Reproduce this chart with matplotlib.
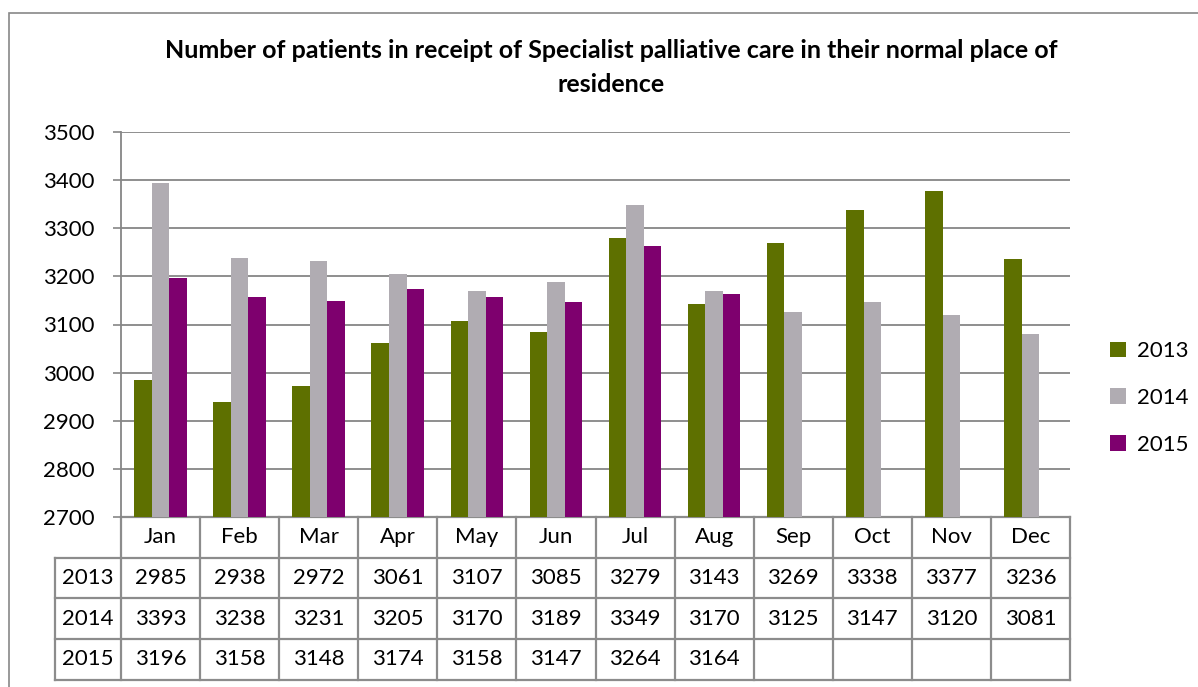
import matplotlib.pyplot as plt
import matplotlib.transforms as mtransforms
from matplotlib.patches import Rectangle

months = ['Jan', 'Feb', 'Mar', 'Apr', 'May', 'Jun',
          'Jul', 'Aug', 'Sep', 'Oct', 'Nov', 'Dec']
years = ['2013', '2014', '2015']
v2013 = [2985, 2938, 2972, 3061, 3107, 3085, 3279, 3143, 3269, 3338, 3377, 3236]
v2014 = [3393, 3238, 3231, 3205, 3170, 3189, 3349, 3170, 3125, 3147, 3120, 3081]
v2015 = [3196, 3158, 3148, 3174, 3158, 3147, 3264, 3164]
colors = ['#5E7000', '#B0ACB2', '#7E006E']
yticks = [2700, 2800, 2900, 3000, 3100, 3200, 3300, 3400, 3500]

plt.rcParams['font.family'] = ['Lato', 'DejaVu Sans']
W, H = 1198, 687
fig = plt.figure(figsize=(W / 100, H / 100), dpi=100)

# outer chart border
fig.patches.append(Rectangle((9 / W, -0.01), 1.2, 1 - 13 / H + 0.01,
                             transform=fig.transFigure, fill=False,
                             edgecolor='#888888', linewidth=1.2))

ax = fig.add_axes([121 / W, 1 - 517 / H, 949 / W, 385 / H])

bw = 1 / 4.5
series = [v2013, v2014, v2015]
for k, (vals, c, lab) in enumerate(zip(series, colors, years)):
    xs = [i + (k - 1) * bw for i in range(len(vals))]
    ax.bar(xs, [v - 2700 for v in vals], bw, bottom=2700, color=c, label=lab, zorder=3)

ax.set_xlim(-0.5, 11.5)
ax.set_ylim(2700, 3500)
ax.set_yticks(yticks)
ax.set_xticks([])
ax.tick_params(axis='y', labelsize=16, length=6, width=1.2, color='#868686', pad=13)
ax.grid(axis='y', color='#868686', linewidth=1.3, zorder=0)
for s in ['top', 'right', 'bottom']:
    ax.spines[s].set_visible(False)
ax.spines['left'].set_color('#868686')
ax.spines['left'].set_linewidth(1.3)

# data table under the plot
tr = mtransforms.blended_transform_factory(ax.transData, ax.transAxes)
rowh = 40.7 / 385
left = -0.5 - 66 / (949 / 12)
lc = dict(color='#8C8C8C', linewidth=1.6, transform=tr, clip_on=False)
rows = [months] + [[str(v) for v in vals] for vals in series]
for r in range(5):
    y = -r * rowh
    x0 = -0.5 if r == 0 else left
    ax.plot([x0, 11.5], [y, y], **lc)
for e in range(13):
    ax.plot([e - 0.5, e - 0.5], [0, -4 * rowh], **lc)
ax.plot([left, left], [-rowh, -4 * rowh], **lc)
for r, row in enumerate(rows):
    yc = -(r + 0.5) * rowh
    if r > 0:
        ax.text((left - 0.5) / 2, yc, years[r - 1], transform=tr, ha='center',
                va='center', fontsize=16)
    for i, t in enumerate(row):
        ax.text(i, yc, t, transform=tr, ha='center', va='center', fontsize=16)

fig.text(611 / W, 1 - 51 / H,
         'Number of patients in receipt of Specialist palliative care in their normal place of',
         ha='center', va='center', fontsize=18, fontweight='bold')
fig.text(611 / W, 1 - 84 / H, 'residence', ha='center', va='center',
         fontsize=18, fontweight='bold')

fig.legend(loc='center left', bbox_to_anchor=(1110 / W, 1 - 398 / H), frameon=False,
           fontsize=16, handlelength=0.7, handleheight=0.7, handletextpad=0.5,
           labelspacing=1.2, borderpad=0, borderaxespad=0)

fig.savefig('out.png', dpi=100)
